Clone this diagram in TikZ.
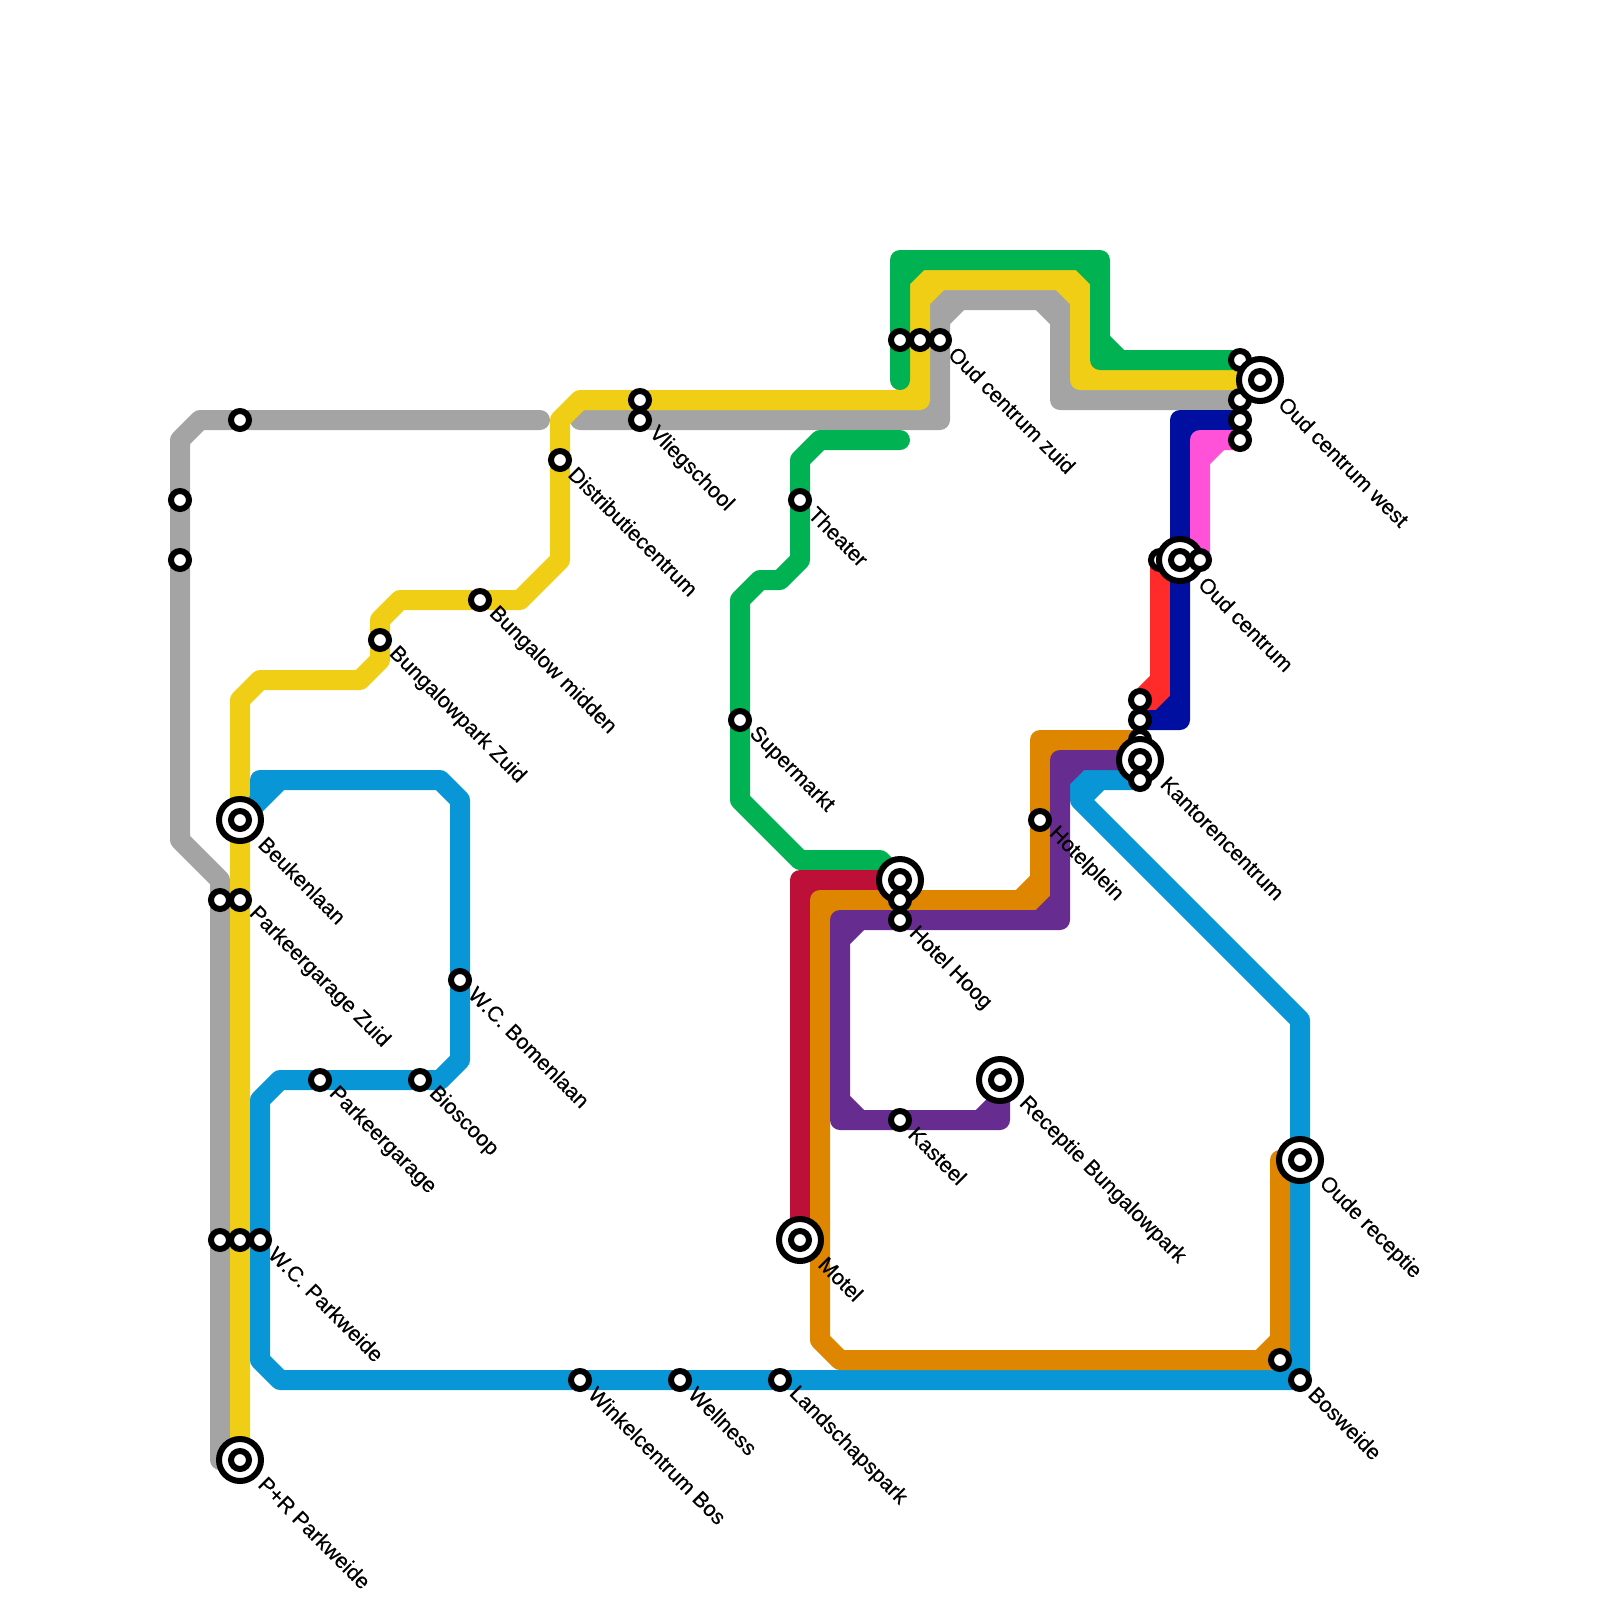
\documentclass[tikz,border=0pt]{standalone}
\usepackage{fontspec}
\setmainfont{Liberation Sans}[FakeBold=0.35]
\usepackage{xcolor}
\usepackage{tikz}
\usetikzlibrary{backgrounds}

\definecolor{greyline}{HTML}{A4A4A4}
\definecolor{yellowline}{HTML}{F0CE15}
\definecolor{greenline}{HTML}{00B251}
\definecolor{blueline}{HTML}{0896D7}
\definecolor{crimsonline}{HTML}{BD1038}
\definecolor{orangeline}{HTML}{DF8600}
\definecolor{purpleline}{HTML}{662C90}
\definecolor{redline}{HTML}{FF2A2A}
\definecolor{navyline}{HTML}{000F9F}
\definecolor{pinkline}{HTML}{FF52D9}

\begin{document}
\begin{tikzpicture}
	[
	x=0.2cm,
	y=-0.2cm,
	metro/.style={
		line width=0.2cm,
		line join=round,
		line cap=round
	},
	stop/.style={
		draw,
		circle,
		fill=white,
		line width=0.06cm,
		inner sep=0pt,
		minimum size=0.18cm
	},
	hub/.style={
		draw,
		circle,
		fill=white,
		line width=0.06cm,
		inner sep=0pt,
		minimum size=0.42cm
	},
	stoplabel/.style={
		rotate=-45,
		anchor=west,
		inner sep=0pt,
		font=\fontsize{6.08pt}{7pt}\selectfont
	}
	]
	
	\useasboundingbox (0,0) rectangle (80,80);
	
	% Free line ends
	\coordinate (grey_end) at (27,21);
	\coordinate (grey_start) at (29,21);
	\coordinate (green_end) at (45,19);
	\coordinate (green_branch) at (45,22);
	
	% Stops hidden behind a hub
	\node[stop] (kantoren_b) at (57,37) {};
	\node[stop] (centrum_a) at (58,28) {};
	\node[stop] (west_a) at (62,18) {};
	\node[stop] (west_b) at (62,20) {};
	\node[stop] (west_c) at (62,21) {};
	\node[stop] (west_d) at (62,22) {};
	
	% Hubs
	\node[hub] (beukenlaan) at (12,41) {};
	\node[stop] (beukenlaan_in) at (12,41) {};
	\node[hub] (parkweide) at (12,73) {};
	\node[stop] (parkweide_in) at (12,73) {};
	\node[hub] (motel) at (40,62) {};
	\node[stop] (motel_in) at (40,62) {};
	\node[hub] (hoog) at (45,44) {};
	\node[stop] (hoog_in) at (45,44) {};
	\node[hub] (bungalowpark) at (50,54) {};
	\node[stop] (bungalowpark_in) at (50,54) {};
	\node[hub] (kantoren) at (57,38) {};
	\node[stop] (kantoren_in) at (57,38) {};
	\node[hub] (centrum) at (59,28) {};
	\node[stop] (centrum_in) at (59,28) {};
	\node[hub] (west) at (63,19) {};
	\node[stop] (west_in) at (63,19) {};
	\node[hub] (receptie) at (65,58) {};
	\node[stop] (receptie_in) at (65,58) {};
	
	% Plain stops
	\node[stop] (grey_top) at (12,21) {};
	\node[stop] (grey_a) at (9,25) {};
	\node[stop] (grey_b) at (9,28) {};
	\node[stop] (zuid_a) at (11,45) {};
	\node[stop] (zuid) at (12,45) {};
	\node[stop] (parkweide_a) at (11,62) {};
	\node[stop] (parkweide_b) at (12,62) {};
	\node[stop] (wc_park) at (13,62) {};
	\node[stop] (garage) at (16,54) {};
	\node[stop] (bioscoop) at (21,54) {};
	\node[stop] (wc_bomen) at (23,49) {};
	\node[stop] (bungalow_zuid) at (19,32) {};
	\node[stop] (bungalow_mid) at (24,30) {};
	\node[stop] (distributie) at (28,23) {};
	\node[stop] (vlieg_a) at (32,20) {};
	\node[stop] (vlieg) at (32,21) {};
	\node[stop] (winkel) at (29,69) {};
	\node[stop] (wellness) at (34,69) {};
	\node[stop] (landschap) at (39,69) {};
	\node[stop] (theater) at (40,25) {};
	\node[stop] (supermarkt) at (37,36) {};
	\node[stop] (zuid_oud_a) at (45,17) {};
	\node[stop] (zuid_oud_b) at (46,17) {};
	\node[stop] (zuid_oud) at (47,17) {};
	\node[stop] (hoog_a) at (45,45) {};
	\node[stop] (hoog_b) at (45,46) {};
	\node[stop] (kasteel) at (45,56) {};
	\node[stop] (hotelplein) at (52,41) {};
	\node[stop] (kantoren_c) at (57,35) {};
	\node[stop] (kantoren_d) at (57,36) {};
	\node[stop] (kantoren_e) at (57,39) {};
	\node[stop] (centrum_b) at (60,28) {};
	\node[stop] (orange_end) at (64,68) {};
	\node[stop] (bosweide) at (65,69) {};
	
	% Labels
	\node[stoplabel] (beukenlaan_txt) at (13.1,42) {Beukenlaan};
	\node[stoplabel] (zuid_txt) at (12.6,45.5) {Parkeergarage Zuid};
	\node[stoplabel] (wc_park_txt) at (13.6,62.5) {W.C. Parkweide};
	\node[stoplabel] (parkweide_txt) at (13.1,74) {P+R Parkweide};
	\node[stoplabel] (garage_txt) at (16.6,54.5) {Parkeergarage};
	\node[stoplabel] (bioscoop_txt) at (21.6,54.5) {Bioscoop};
	\node[stoplabel] (wc_bomen_txt) at (23.6,49.5) {W.C. Bomenlaan};
	\node[stoplabel] (bungalow_zuid_txt) at (19.6,32.5) {Bungalowpark Zuid};
	\node[stoplabel] (bungalow_mid_txt) at (24.6,30.5) {Bungalow midden};
	\node[stoplabel] (distributie_txt) at (28.6,23.5) {Distributiecentrum};
	\node[stoplabel] (vlieg_txt) at (32.6,21.5) {Vliegschool};
	\node[stoplabel] (winkel_txt) at (29.6,69.5) {Winkelcentrum Bos};
	\node[stoplabel] (wellness_txt) at (34.6,69.5) {Wellness};
	\node[stoplabel] (landschap_txt) at (39.6,69.5) {Landschapspark};
	\node[stoplabel] (theater_txt) at (40.6,25.5) {Theater};
	\node[stoplabel] (supermarkt_txt) at (37.6,36.5) {Supermarkt};
	\node[stoplabel] (motel_txt) at (41.1,63) {Motel};
	\node[stoplabel] (zuid_oud_txt) at (47.6,17.5) {Oud centrum zuid};
	\node[stoplabel] (hoog_txt) at (45.6,46.5) {Hotel Hoog};
	\node[stoplabel] (kasteel_txt) at (45.6,56.5) {Kasteel};
	\node[stoplabel] (bungalowpark_txt) at (51.1,55) {Receptie Bungalowpark};
	\node[stoplabel] (hotelplein_txt) at (52.6,41.5) {Hotelplein};
	\node[stoplabel] (kantoren_txt) at (58.2,39) {Kantorencentrum};
	\node[stoplabel] (centrum_txt) at (60.1,29) {Oud centrum};
	\node[stoplabel] (west_txt) at (64.1,20) {Oud centrum west};
	\node[stoplabel] (receptie_txt) at (66.1,59) {Oude receptie};
	\node[stoplabel] (bosweide_txt) at (65.6,69.5) {Bosweide};
	
	\begin{scope}[on background layer]
		% Grey lines
		\draw[metro, greyline] (grey_end) -- (10,21) -- (9,22) -- (9,42) -- (11,44) -- (11,73) -- (parkweide.center);
		\draw[metro, greyline] (grey_start) -- (47,21) -- (47,15) -- (53,15) -- (53,20) -- (west_b.center)
			(46,21) -- (47,20) (47,16) -- (48,15) (52,15) -- (53,16) (53,19) -- (54,20);
		
		% Yellow line
		\draw[metro, yellowline] (parkweide.center) -- (12,35) -- (13,34) -- (18,34) -- (19,33) -- (19,31) -- (20,30)
			-- (26,30) -- (28,28) -- (28,21) -- (29,20) -- (46,20) -- (46,14) -- (54,14) -- (54,19) -- (west.center)
			(45,20) -- (46,19) (46,15) -- (47,14) (53,14) -- (54,15) (54,18) -- (55,19);
		
		% Green lines
		\draw[metro, greenline] (green_end) -- (45,13) -- (55,13) -- (55,18) -- (west_a.center)
			(45,14) -- (46,13) (54,13) -- (55,14) (55,17) -- (56,18);
		\draw[metro, greenline] (green_branch) -- (41,22) -- (40,23) -- (40,28) -- (39,29) -- (38,29) -- (37,30)
			-- (37,40) -- (40,43) -- (44,43) -- (hoog.center);
		
		% Blue line
		\draw[metro, blueline] (beukenlaan.center) -- (13,40) -- (13,39) -- (22,39) -- (23,40) -- (23,53) -- (22,54)
			-- (14,54) -- (13,55) -- (13,68) -- (14,69) -- (bosweide.center) -- (65,51) -- (54,40) -- (54,39) -- (kantoren_e.center)
			(13,40) -- (14,39) (54,40) -- (55,39) (64,69) -- (65,68);
		
		% Crimson and orange lines
		\draw[metro, crimsonline] (hoog.center) -- (40,44) -- (motel.center)
			(41,44) -- (40,45);
		\draw[metro, orangeline] (kantoren_b.center) -- (52,37) -- (52,45) -- (41,45) -- (41,67) -- (42,68) -- (64,68)
			-- (64,58) -- (receptie.center)
			(52,38) -- (53,37) (52,44) -- (51,45) (42,45) -- (41,46) (64,67) -- (63,68);
		
		% Purple line
		\draw[metro, purpleline] (kantoren.center) -- (53,38) -- (53,46) -- (42,46) -- (42,56) -- (50,56) -- (bungalowpark.center)
			(53,39) -- (54,38) (53,45) -- (52,46) (43,46) -- (42,47) (42,55) -- (43,56) (49,56) -- (50,55);
		
		% Red, navy and pink lines
		\draw[metro, redline] (centrum_a.center) -- (58,35) -- (kantoren_c.center)
			(58,34) -- (57,35);
		\draw[metro, navyline] (west_c.center) -- (59,21) -- (59,36) -- (kantoren_d.center)
			(60,21) -- (59,22) (59,35) -- (58,36);
		\draw[metro, pinkline] (west_d.center) -- (60,22) -- (centrum_b.center)
			(61,22) -- (60,23);
	\end{scope}
	
\end{tikzpicture}
\end{document}
